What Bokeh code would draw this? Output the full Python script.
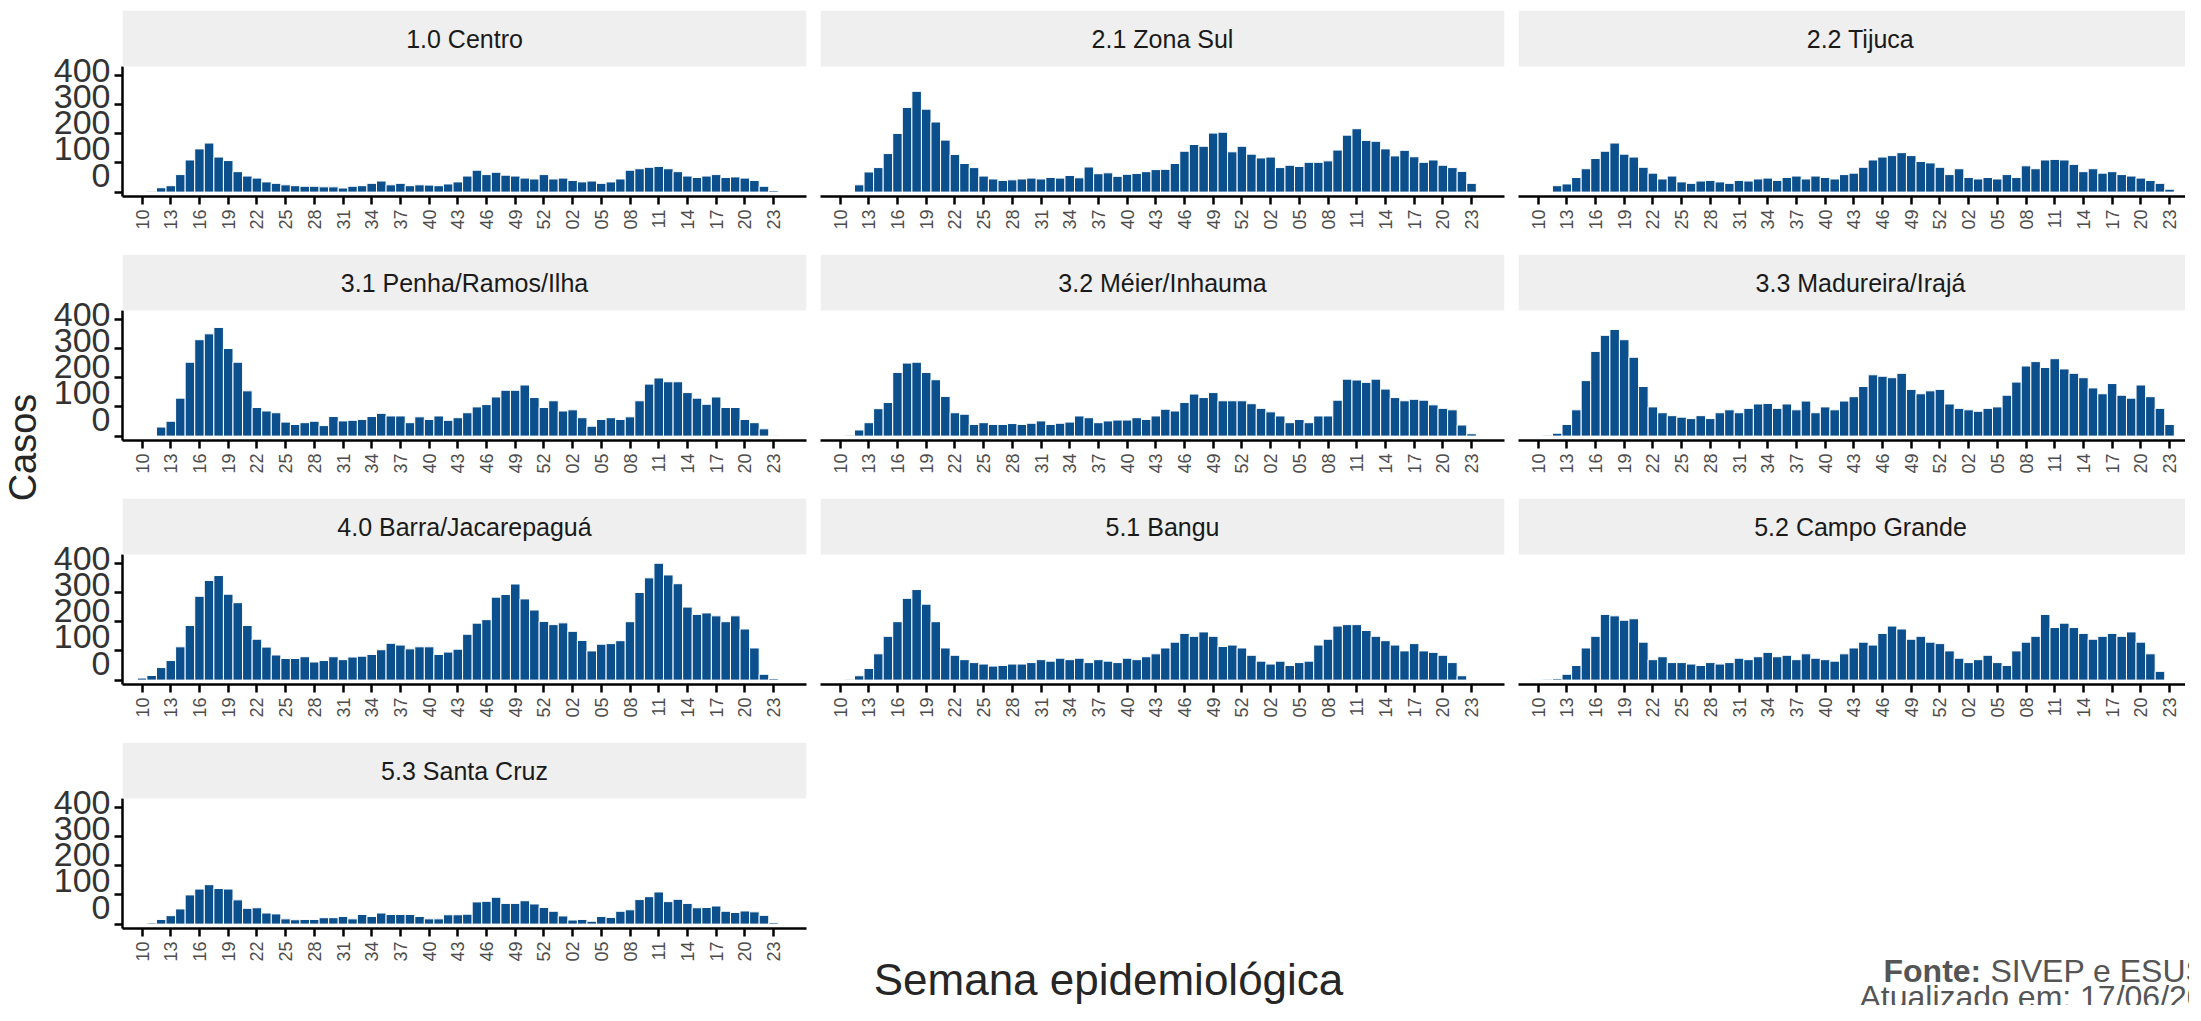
from math import pi
from bokeh.plotting import figure
from bokeh.layouts import row, column
from bokeh.models import (Range1d, FixedTicker, LinearAxis, Label, BoxAnnotation,
                          ColumnDataSource, CustomJSTickFormatter)
from bokeh.embed import file_html
from bokeh.resources import INLINE

# ---------------- data ----------------
weeks_2020 = [f"{w:02d}" for w in range(10, 54)]
weeks_2021 = [f"{w:02d}" for w in range(1, 24)]
weeks = weeks_2020 + weeks_2021

x_tick_labels = ["10", "13", "16", "19", "22", "25", "28", "31", "34", "37", "40",
                 "43", "46", "49", "52", "02", "05", "08", "11", "14", "17", "20", "23"]
y_ticks = [0, 100, 200, 300, 400]

regions = ["1.0 Centro", "2.1 Zona Sul", "2.2 Tijuca",
           "3.1 Penha/Ramos/Ilha", "3.2 Méier/Inhauma", "3.3 Madureira/Irajá",
           "4.0 Barra/Jacarepaguá", "5.1 Bangu", "5.2 Campo Grande",
           "5.3 Santa Cruz"]

centro = [0, 3, 15, 22, 60, 110, 148, 168, 120, 108,
          70, 55, 48, 35, 30, 25, 22, 20, 20, 18,
          18, 14, 20, 22, 30, 38, 25, 30, 22, 25,
          24, 22, 28, 35, 55, 75, 60, 68, 58, 55,
          48, 45, 60, 45] + \
         [48, 40, 35, 38, 30, 35, 45, 75, 80, 85, 88, 80, 70, 55, 50, 55, 60, 50, 52, 48, 40, 20, 5]

zona_sul = [0, 0, 25, 69, 84, 132, 201, 290, 345, 284,
            240, 178, 129, 98, 84, 55, 45, 40, 42, 45,
            48, 45, 50, 48, 57, 49, 86, 63, 66, 54,
            61, 64, 70, 77, 78, 98, 140, 163, 157, 202,
            205, 138, 157, 130] + \
           [117, 120, 84, 92, 88, 102, 102, 107, 144, 195, 217, 177, 174, 148, 124, 143, 121, 102, 110, 92, 84, 71, 30]

tijuca = [0, 0, 22, 28, 50, 80, 115, 140, 168, 130,
          120, 85, 65, 45, 55, 35, 30, 38, 40, 35,
          30, 40, 38, 45, 48, 40, 50, 55, 45, 55,
          50, 45, 60, 65, 85, 110, 120, 125, 135, 125,
          105, 100, 85, 60] + \
         [80, 50, 45, 50, 45, 60, 50, 90, 80, 110, 112, 110, 95, 70, 80, 65, 70, 60, 55, 48, 40, 30, 10]

penha = [0, 2, 31, 51, 130, 253, 330, 350, 372, 300,
         253, 155, 98, 86, 80, 48, 40, 46, 51, 36,
         67, 52, 54, 57, 67, 78, 69, 69, 46, 66,
         57, 69, 54, 63, 80, 100, 108, 134, 157, 157,
         175, 132, 98, 121] + \
        [86, 90, 63, 34, 57, 63, 57, 66, 121, 178, 199, 186, 186, 149, 130, 109, 134, 98, 98, 57, 46, 25, 1]

meier = [0, 3, 21, 46, 94, 115, 218, 250, 253, 218,
         193, 136, 80, 75, 40, 46, 40, 40, 43, 40,
         44, 52, 40, 44, 48, 69, 63, 46, 52, 55,
         55, 63, 57, 69, 92, 86, 115, 144, 132, 149,
         121, 121, 121, 111] + \
        [95, 83, 69, 46, 57, 46, 69, 69, 123, 195, 192, 184, 195, 161, 132, 121, 126, 123, 107, 95, 90, 38, 8]

madureira = [0, 3, 10, 40, 90, 190, 290, 345, 365, 330,
             270, 170, 100, 80, 70, 65, 60, 70, 60, 80,
             90, 80, 95, 110, 112, 95, 110, 90, 120, 80,
             100, 90, 120, 135, 170, 210, 205, 200, 215, 160,
             145, 155, 160, 110] + \
            [95, 90, 85, 95, 100, 140, 185, 240, 255, 235, 265, 230, 215, 200, 165, 145, 180, 140, 130, 175, 135, 95, 40]

barra = [7, 16, 43, 67, 114, 187, 287, 341, 358, 294,
         265, 187, 140, 113, 86, 74, 74, 80, 62, 67,
         80, 70, 79, 82, 88, 104, 126, 120, 107, 114,
         114, 88, 96, 106, 157, 195, 207, 284, 293, 329,
         278, 240, 201, 190] + \
        [196, 167, 136, 100, 123, 125, 135, 200, 300, 350, 400, 360, 330, 250, 225, 230, 220, 200, 220, 175, 110, 20, 5]

bangu = [0, 3, 15, 40, 90, 150, 200, 280, 310, 260,
         200, 110, 85, 70, 60, 55, 48, 50, 55, 55,
         60, 70, 65, 75, 70, 75, 60, 70, 65, 60,
         75, 70, 80, 90, 110, 130, 160, 150, 165, 150,
         115, 120, 110, 85] + \
        [65, 55, 65, 50, 60, 65, 120, 140, 185, 190, 190, 170, 150, 135, 120, 100, 125, 100, 95, 85, 60, 15, 0]

campo_grande = [2, 3, 5, 20, 50, 110, 150, 225, 220, 205,
                210, 130, 70, 80, 60, 60, 55, 50, 60, 55,
                60, 75, 70, 80, 95, 80, 85, 70, 90, 75,
                70, 65, 90, 110, 130, 120, 160, 185, 175, 140,
                150, 130, 125, 100] + \
               [75, 60, 70, 85, 60, 50, 100, 130, 150, 225, 180, 195, 180, 160, 140, 150, 160, 150, 165, 130, 90, 30, 0]

santa_cruz = [2, 4, 16, 29, 52, 100, 120, 135, 122, 120,
              83, 54, 56, 38, 35, 18, 15, 16, 16, 22,
              22, 26, 18, 33, 26, 38, 33, 33, 33, 26,
              18, 18, 32, 32, 34, 76, 78, 92, 71, 71,
              80, 69, 57, 44] + \
             [28, 14, 16, 10, 26, 23, 44, 49, 84, 94, 110, 77, 85, 71, 56, 57, 62, 44, 40, 45, 42, 30, 5]

series = [centro, zona_sul, tijuca, penha, meier, madureira,
          barra, bangu, campo_grande, santa_cruz]
for s in series:
    assert len(s) == len(weeks), len(s)

# ---------------- style / layout ----------------
FONT = "Liberation Sans"
BAR = "#0b4f8c"
TXT = "#1a1a1a"
STRIP = "#efefef"
X0 = -2.05            # left edge of panel in week-index units
PXW = 9.567           # px per week
FRAME_W = 684
FRAME_H = 130         # data part of panel
Y0, Y1 = -15, 430
PXY = FRAME_H / (Y1 - Y0)
STRIP_H = 56
BOTTOM = 55
GAP = 3
PITCH = GAP + STRIP_H + FRAME_H + BOTTOM   # 244
TOP_EXTRA = 7
# the y tick labels of the original sit somewhat above their ticks
lbl_pos = [58 + 0.8975 * v for v in y_ticks]

tick_pos = list(range(0, len(weeks), 3))
assert [weeks[i] for i in tick_pos] == x_tick_labels


def make_facet(name, vals, col, top_border):
    bl = 74 if col == 0 else 7
    br = 0 if col == 2 else 7
    fw = 667 if col == 2 else FRAME_W
    W = bl + fw + br
    xr = Range1d(X0, X0 + fw / PXW)

    p = figure(width=W, height=top_border + STRIP_H + FRAME_H + BOTTOM, x_range=xr,
               y_range=Range1d(Y0, Y1 + STRIP_H / PXY),
               output_backend="svg", toolbar_location=None,
               x_axis_location=None, y_axis_location=None,
               min_border_left=bl, min_border_right=br,
               min_border_top=top_border, min_border_bottom=BOTTOM,
               background_fill_color="white", border_fill_color="white",
               outline_line_color=None)
    p.xgrid.visible = False
    p.ygrid.visible = False

    # facet strip
    p.add_layout(BoxAnnotation(bottom=Y1, fill_color=STRIP, fill_alpha=1,
                               line_color=None))
    p.add_layout(Label(x=X0 + FRAME_W / PXW / 2, y=Y1 + (STRIP_H / 2) / PXY, text=name,
                       text_align="center", text_baseline="middle",
                       text_font=FONT, text_font_size="25px", text_color=TXT))

    src = ColumnDataSource(dict(x=list(range(len(vals))), top=vals))
    p.vbar(x="x", top="top", bottom=0, width=1.0, source=src,
           fill_color=BAR, line_color="white", line_width=1)

    xa = LinearAxis(ticker=FixedTicker(ticks=tick_pos),
                    major_label_overrides={i: lab for i, lab in zip(tick_pos, x_tick_labels)},
                    major_label_orientation=pi / 2,
                    axis_line_color="black", axis_line_width=2.5,
                    major_tick_line_color="black", major_tick_line_width=2.5,
                    major_tick_out=8, major_tick_in=0,
                    minor_tick_out=0, minor_tick_in=0,
                    major_label_standoff=5,
                    major_label_text_font=FONT, major_label_text_font_size="18px",
                    major_label_text_color="#4d4d4d")
    p.add_layout(xa, "below")

    if col == 0:
        ya = LinearAxis(ticker=FixedTicker(ticks=y_ticks), bounds=(Y0, Y1),
                        formatter=CustomJSTickFormatter(code="return ''"),
                        axis_line_color="black", axis_line_width=2.5,
                        major_tick_line_color="black", major_tick_line_width=2.5,
                        major_tick_out=8, major_tick_in=0,
                        minor_tick_out=0, minor_tick_in=0,
                        major_label_standoff=0)
        yb = LinearAxis(ticker=FixedTicker(ticks=lbl_pos),
                        major_label_overrides={pos: str(v) for pos, v in zip(lbl_pos, y_ticks)},
                        axis_line_color=None, major_tick_line_color=None,
                        major_tick_out=0, major_tick_in=0,
                        minor_tick_out=0, minor_tick_in=0,
                        major_label_standoff=4,
                        major_label_text_font=FONT, major_label_text_font_size="34px",
                        major_label_text_color="#333333")
        p.add_layout(ya, "left")
        p.add_layout(yb, "left")
    return column(p)


facets = [make_facet(n, s, i % 3, GAP + (TOP_EXTRA if i < 3 else 0))
          for i, (n, s) in enumerate(zip(regions, series))]

TOTAL_H = 1005
rows_ = [row(*facets[3 * r:3 * r + 3]) for r in range(3)]
rows_top = 3 * PITCH + TOP_EXTRA          # y (below page margin) where row 4 starts

# bottom-right area: x-axis title and caption
TW, TH = 1376, TOTAL_H - rows_top
FIG_X = 8 + 48 + 74 + FRAME_W + 7          # page x of this figure
FIG_Y = 8 + rows_top                       # page y of its top
tfig = figure(width=TW, height=TH, x_range=Range1d(0, TW), y_range=Range1d(0, TH),
              output_backend="svg", toolbar_location=None,
              x_axis_location=None, y_axis_location=None,
              min_border=0, outline_line_color=None)
tfig.xgrid.visible = False
tfig.ygrid.visible = False
tfig.add_layout(Label(x=1116 - FIG_X, y=FIG_Y + TH - 987, text="Semana epidemiológica",
                      text_align="center", text_baseline="alphabetic",
                      text_font=FONT, text_font_size="44px", text_color="#262626"))
tfig.add_layout(Label(x=1891 - FIG_X, y=FIG_Y + TH - 978, text="Fonte:",
                      text_align="left", text_baseline="alphabetic",
                      text_font=FONT, text_font_size="32px", text_font_style="bold",
                      text_color="#555555"))
tfig.add_layout(Label(x=1891 - FIG_X + 107, y=FIG_Y + TH - 978, text="SIVEP e ESUS",
                      text_align="left", text_baseline="alphabetic",
                      text_font=FONT, text_font_size="32px",
                      text_color="#555555"))
tfig.add_layout(Label(x=1867 - FIG_X, y=FIG_Y + TH - 1004, text="Atualizado em: 17/06/2021",
                      text_align="left", text_baseline="alphabetic",
                      text_font=FONT, text_font_size="32px",
                      text_color="#555555"))

row4 = row(facets[9], column(tfig))
grid = column(*rows_, row4)

# y-axis title column
cfig = figure(width=48, height=TOTAL_H, x_range=Range1d(0, 48), y_range=Range1d(0, TOTAL_H),
              output_backend="svg", toolbar_location=None,
              x_axis_location=None, y_axis_location=None,
              min_border=0, outline_line_color=None)
cfig.xgrid.visible = False
cfig.ygrid.visible = False
cfig.add_layout(Label(x=22, y=TOTAL_H - (455 - 8), text="Casos", angle=pi / 2,
                      text_align="center", text_baseline="middle",
                      text_font=FONT, text_font_size="38px", text_color="#262626"))

layout = row(column(cfig), grid)

open("out.html", "w").write(file_html(layout, INLINE))
